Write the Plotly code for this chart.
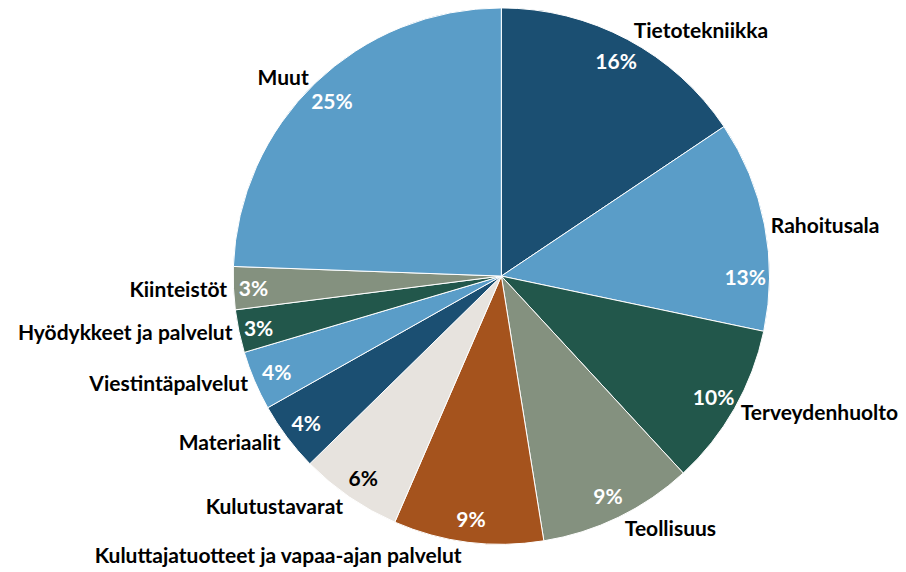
import plotly.graph_objects as go

# -----------------------------------------
#              データ
# -----------------------------------------
labels = [
    "Tietotekniikka", "Rahoitusala", "Terveydenhuolto", "Teollisuus",
    "Kuluttajatuotteet ja vapaa-ajan palvelut", "Kulutustavarat", "Materiaalit",
    "Viestintäpalvelut", "Hyödykkeet ja palvelut", "Kiinteistöt", "Muut",
]
shares = [15.7, 12.8, 9.9, 9.4, 9.1, 6.2, 4.2, 3.6, 2.6, 2.6, 24.6]

slice_colors = [
    "#1B4F72", "#5A9DC8", "#22574B", "#84917F", "#A5531D", "#E7E3DE",
    "#1B4F72", "#5A9DC8", "#22574B", "#84917F", "#5A9DC8",
]
pct_colors = ["white"] * 5 + ["black"] + ["white"] * 5

FONT = "Lato"
FONT_SIZE = 21
DOMAIN = dict(x=[0.2561, 0.8543], y=[0.0385, 0.9860])

fig = go.Figure()

# 本体 + 外側ラベル
fig.add_trace(go.Pie(
    labels=labels,
    values=shares,
    sort=False,
    direction="clockwise",
    rotation=0,
    domain=DOMAIN,
    marker=dict(colors=slice_colors, line=dict(color="white", width=1)),
    textposition="outside",
    texttemplate="<b>%{label}</b>",
    outsidetextfont=dict(family=FONT, size=FONT_SIZE, color="black"),
    hoverinfo="skip",
))

# パーセント表示（透明リング）
fig.add_trace(go.Pie(
    labels=labels,
    values=shares,
    sort=False,
    direction="clockwise",
    rotation=0,
    hole=0.82,
    domain=DOMAIN,
    marker=dict(colors=["rgba(0,0,0,0)"] * len(labels)),
    textposition="inside",
    insidetextorientation="horizontal",
    texttemplate="<b>%{value:.0f}%</b>",
    insidetextfont=dict(family=FONT, size=FONT_SIZE, color=pct_colors),
    hovertemplate="%{label}: %{value:.1f}%<extra></extra>",
))

fig.update_layout(
    width=906,
    height=572,
    showlegend=False,
    paper_bgcolor="white",
    plot_bgcolor="white",
    margin=dict(l=0, r=0, t=0, b=0),
    uniformtext=dict(minsize=FONT_SIZE, mode="show"),
)

# ブラウザ既定の body 余白を消す
fig.write_html(
    "out.html",
    config={"displayModeBar": False},
    post_script="document.body.style.margin='0';",
)
